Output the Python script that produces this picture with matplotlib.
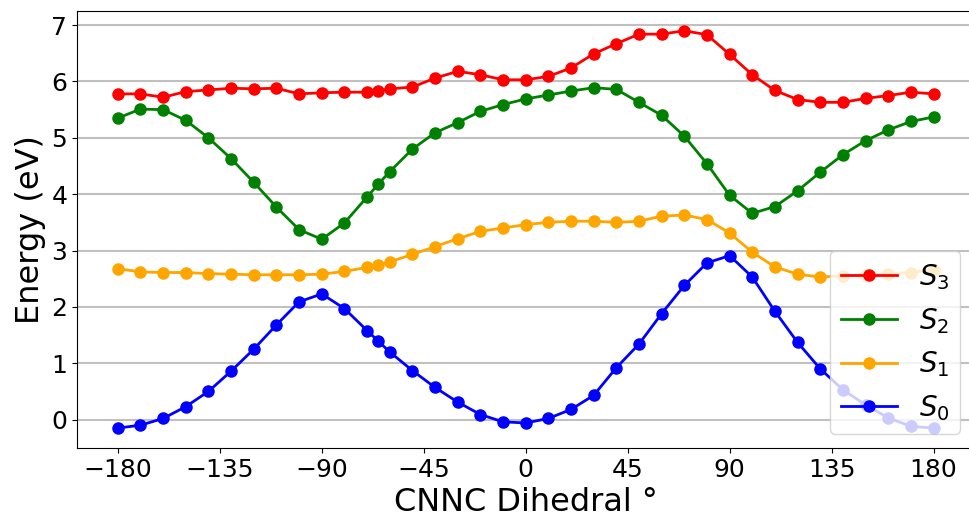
import matplotlib
matplotlib.use("Agg")
import matplotlib.pyplot as plt

# CNNC dihedral scan (degrees)
dihedral = [-180, -170, -160, -150, -140, -130, -120, -110, -100, -90, -80,
            -70, -65, -60, -50, -40, -30, -20, -10, 0, 10, 20, 30, 40, 50,
            60, 70, 80, 90, 100, 110, 120, 130, 140, 150, 160, 170, 180]

# State energies (eV)
s0 = [-0.15, -0.10, 0.02, 0.23, 0.50, 0.86, 1.25, 1.68, 2.09, 2.23, 1.97,
      1.58, 1.39, 1.20, 0.87, 0.57, 0.31, 0.09, -0.04, -0.06, 0.02, 0.18,
      0.43, 0.92, 1.34, 1.88, 2.38, 2.78, 2.91, 2.53, 1.92, 1.37, 0.90,
      0.53, 0.26, 0.03, -0.12, -0.15]
s1 = [2.68, 2.62, 2.61, 2.61, 2.59, 2.58, 2.57, 2.57, 2.57, 2.58, 2.63,
      2.70, 2.74, 2.80, 2.93, 3.07, 3.21, 3.34, 3.40, 3.46, 3.50, 3.52,
      3.52, 3.50, 3.52, 3.61, 3.63, 3.55, 3.31, 2.97, 2.71, 2.58, 2.53,
      2.55, 2.57, 2.59, 2.61, 2.66]
s2 = [5.35, 5.51, 5.50, 5.31, 5.00, 4.63, 4.21, 3.77, 3.37, 3.20, 3.49,
      3.95, 4.18, 4.40, 4.80, 5.09, 5.27, 5.47, 5.59, 5.69, 5.76, 5.83,
      5.89, 5.86, 5.63, 5.40, 5.03, 4.54, 3.98, 3.66, 3.78, 4.06, 4.39,
      4.70, 4.95, 5.14, 5.29, 5.37]
s3 = [5.78, 5.78, 5.72, 5.82, 5.85, 5.88, 5.87, 5.88, 5.78, 5.80, 5.81,
      5.81, 5.83, 5.87, 5.90, 6.06, 6.18, 6.12, 6.03, 6.03, 6.09, 6.24,
      6.49, 6.67, 6.84, 6.84, 6.90, 6.83, 6.48, 6.12, 5.84, 5.68, 5.63,
      5.63, 5.70, 5.75, 5.81, 5.78]

series = [(s3, "red", r"$S_3$"), (s2, "green", r"$S_2$"),
          (s1, "orange", r"$S_1$"), (s0, "blue", r"$S_0$")]

xticks = [-180, -135, -90, -45, 0, 45, 90, 135, 180]

fig = plt.figure(figsize=(9.69, 5.19), dpi=100)
ax = fig.add_axes([0.0795, 0.137, 0.926, 0.842])

for vals, color, label in series:
    ax.plot(dihedral, vals, "-o", color=color, lw=2, ms=8, label=label)

ax.set_xticks(xticks)
ax.set_yticks(range(0, 8))
ax.tick_params(labelsize=18)
ax.set_xlabel("CNNC Dihedral °", fontsize=23)
ax.set_ylabel("Energy (eV)", fontsize=23)
ax.yaxis.grid(True, color="#c0c0c0", lw=1.5)
ax.set_axisbelow(True)
ax.spines["right"].set_visible(False)
ax.legend(loc="lower right", fontsize=20)

fig.savefig("out.png", dpi=100)
